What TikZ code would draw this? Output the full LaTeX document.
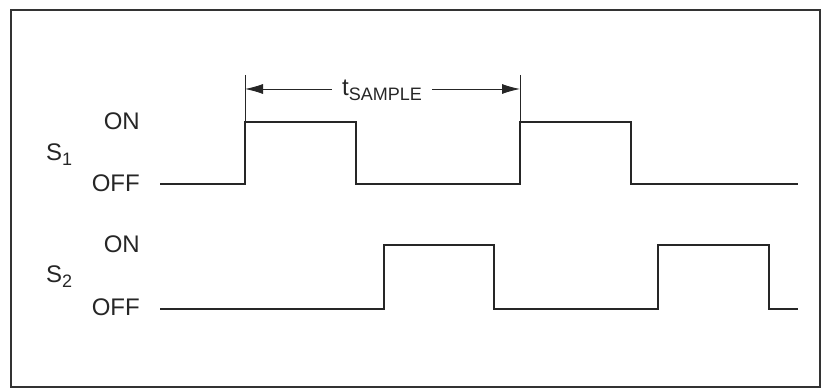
\documentclass[tikz,border=0pt]{standalone}
\usepackage{fontspec}
\setmainfont{Liberation Sans}
\usetikzlibrary{arrows.meta}
\usetikzlibrary{positioning}
\tikzset{wave/.style = {line width=2.5pt, draw=black!85, line join=miter}}
\tikzset{lbl/.style = {font=\fontsize{24}{26}\selectfont, text=black!85, inner sep=0}}
\tikzset{dim/.style = {line width=0.9pt, draw=black!85}}
\tikzset{dimarrow/.style = {dim, -{Latex[length=18pt, width=10pt]}}}
\newcommand{\lowsub}[1]{\raisebox{-5pt}{\fontsize{18}{19}\selectfont #1}}

\begin{document}
\begin{tikzpicture}[x=1pt, y=-1pt]
      \useasboundingbox (0,0) rectangle (822,390);
      \draw [line width=2.2pt, draw=black!80] (11,10) rectangle (820,387);
      % signal labels
      \node [lbl, anchor=base west] (s1) at (46,161) {S\lowsub{1}};
      \node [lbl, anchor=base east] (on1) at (140,130) {ON};
      \node [lbl, anchor=base east] (off1) at (140,192) {OFF};
      \node [lbl, anchor=base west] (s2) at (46,283) {S\lowsub{2}};
      \node [lbl, anchor=base east] (on2) at (140,253) {ON};
      \node [lbl, anchor=base east] (off2) at (140,315) {OFF};
      % waveforms
      \draw [wave] (160,184) -| (245,122) -| (356,184) -| (520,122) -| (631,184) -- (798,184);
      \draw [wave] (160,309) -| (384,245) -| (494,309) -| (658,245) -| (769,309) -- (798,309);
      % sample period
      \coordinate (tickl) at (245,75);
      \coordinate (tickr) at (520,75);
      \coordinate (arrl) at (245,89);
      \coordinate (arrr) at (520,89);
      \draw [dim] (tickl) -- +(0,47);
      \draw [dim] (tickr) -- +(0,47);
      \node [lbl, anchor=base, inner xsep=10pt] (tsample) at (382,96) {t\lowsub{SAMPLE}};
      \draw [dimarrow] (tsample.west |- arrl) -- (arrl);
      \draw [dimarrow] (tsample.east |- arrr) -- (arrr);
    \end{tikzpicture}
\end{document}
